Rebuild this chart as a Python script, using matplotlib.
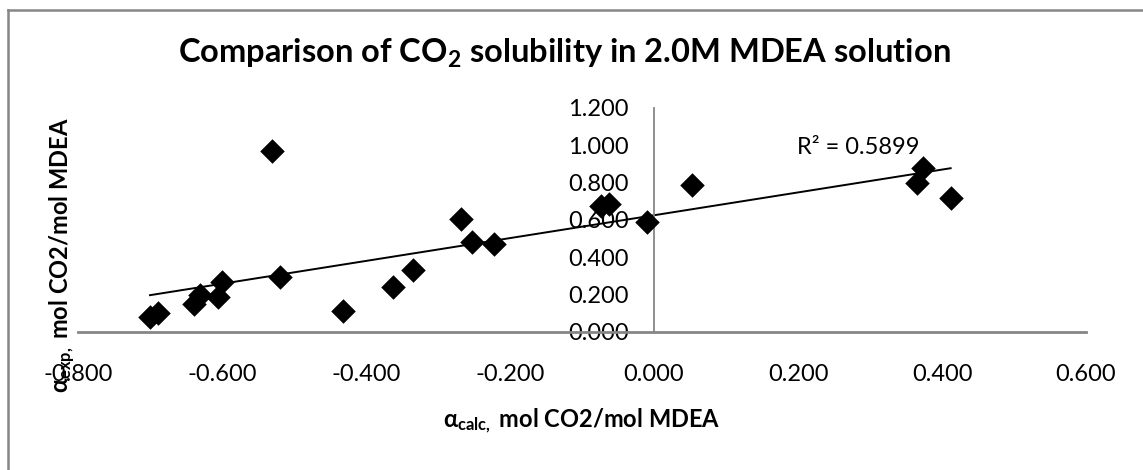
import numpy as np
import matplotlib
matplotlib.use("Agg")
import matplotlib.pyplot as plt
from matplotlib.lines import Line2D

plt.rcParams['font.family'] = ['Lato', 'DejaVu Sans']
plt.rcParams['mathtext.fontset'] = 'custom'
plt.rcParams['mathtext.rm'] = 'Lato'
plt.rcParams['mathtext.bf'] = 'Lato:bold'
plt.rcParams['mathtext.it'] = 'Lato:italic'

# alpha_calc vs alpha_exp
x_calc = [-0.700, -0.689, -0.639, -0.631, -0.605, -0.600, -0.531, -0.519, -0.432, -0.362, -0.335,
          -0.268, -0.253, -0.222, -0.073, -0.062, -0.010, 0.053, 0.365, 0.373, 0.412]
y_exp = [0.080, 0.100, 0.150, 0.200, 0.190, 0.270, 0.970, 0.295, 0.110, 0.240, 0.330,
         0.605, 0.480, 0.470, 0.675, 0.685, 0.590, 0.790, 0.800, 0.880, 0.720]
x_ticks = [-0.8, -0.6, -0.4, -0.2, 0.0, 0.2, 0.4, 0.6]
y_ticks = [0.0, 0.2, 0.4, 0.6, 0.8, 1.0, 1.2]
r2_text = "R² = 0.5899"

W, H = 1143, 470
fig = plt.figure(figsize=(W / 100, H / 100), dpi=100)
ax = fig.add_axes([78 / W, 1 - 332 / H, 1008 / W, 224 / H])

ax.scatter(x_calc, y_exp, marker='D', s=12.5 ** 2, color='black', zorder=3, linewidths=0)

# linear trendline over the data range
k, b = np.polyfit(x_calc, y_exp, 1)
xs = np.array([min(x_calc), max(x_calc)])
ax.plot(xs, k * xs + b, color='black', lw=1.4, zorder=2)
ax.text(0.199, 0.99, r2_text, fontsize=17, ha='left', va='center')

ax.set_xlim(-0.8, 0.6)
ax.set_ylim(0, 1.2)
ax.set_xticks(x_ticks)
ax.set_yticks(y_ticks)
ax.set_xticklabels([f"{v:.3f}" for v in x_ticks])
ax.set_yticklabels([f"{v:.3f}" for v in y_ticks])

gray = '#868686'
for s in ('top', 'right'):
    ax.spines[s].set_visible(False)
ax.spines['left'].set_position(('data', 0))
ax.spines['left'].set_color(gray)
ax.spines['bottom'].set_color(gray)
ax.spines['left'].set_linewidth(1.3)
ax.spines['bottom'].set_linewidth(2)
ax.tick_params(axis='y', length=0, pad=18, labelsize=17)
ax.tick_params(axis='x', length=0, pad=23, labelsize=17)
ax.patch.set_alpha(0)

fig.text(0.5 * (178 + 950) / W, 1 - 53 / H,
         r"Comparison of CO$_\mathbf{2}$ solubility in 2.0M MDEA solution",
         fontsize=23.5, fontweight='bold', ha='center', va='center')
fig.text(582 / W, 1 - 421 / H, r"α$_\mathbf{calc,}$ mol CO2/mol MDEA",
         fontsize=17, fontweight='bold', ha='center', va='center')
fig.text(62 / W, 1 - 255 / H, r"α$_\mathbf{exp,}$ mol CO2/mol MDEA",
         fontsize=17, fontweight='bold', ha='center', va='center', rotation=90)

# chart frame (only top and left edges show)
fig.add_artist(Line2D([8 / W, 1], [1 - 10 / H, 1 - 10 / H], color=gray, lw=1.8, transform=fig.transFigure))
fig.add_artist(Line2D([8 / W, 8 / W], [0, 1 - 10 / H], color=gray, lw=1.8, transform=fig.transFigure))

fig.savefig("out.png", dpi=100)
